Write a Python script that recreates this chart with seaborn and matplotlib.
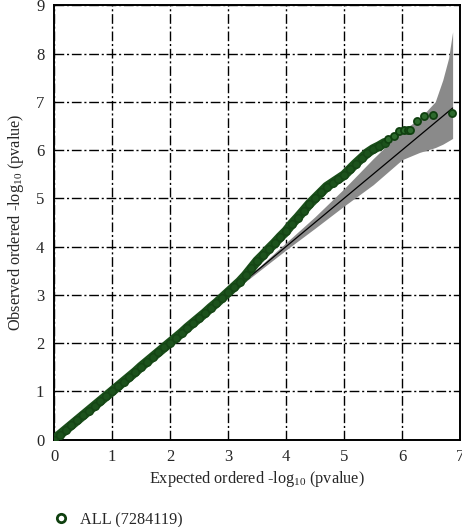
import numpy as np
import pandas as pd
import matplotlib
matplotlib.use("Agg")
import matplotlib.pyplot as plt
from matplotlib.lines import Line2D
import seaborn as sns

# Valeurs (QQ plot)
expected = [0.0, 0.1, 0.2, 0.3, 0.4, 0.5, 0.6, 0.7, 0.8, 0.9,
            1.0, 1.1, 1.2, 1.3, 1.4, 1.5, 1.6, 1.7, 1.8, 1.9,
            2.0, 2.1, 2.2, 2.3, 2.4, 2.5, 2.6, 2.7, 2.8, 2.9,
            3.0, 3.1, 3.2, 3.3, 3.4, 3.5, 3.6, 3.7, 3.8, 3.9,
            4.0, 4.1, 4.2, 4.3, 4.4, 4.5, 4.6, 4.7, 4.8, 4.9,
            5.0, 5.1, 5.2, 5.3, 5.4, 5.5, 5.6, 5.7, 5.75, 5.86,
            5.95, 6.03, 6.1, 6.14, 6.26, 6.38, 6.54, 6.86]
observed = [0.0, 0.1, 0.2, 0.3, 0.4, 0.5, 0.6, 0.7, 0.8, 0.9,
            1.0, 1.1, 1.2, 1.3, 1.4, 1.51, 1.61, 1.71, 1.81, 1.91,
            2.01, 2.11, 2.21, 2.32, 2.42, 2.52, 2.62, 2.73, 2.83, 2.94,
            3.05, 3.16, 3.27, 3.4, 3.55, 3.7, 3.82, 3.95, 4.07, 4.2,
            4.32, 4.47, 4.6, 4.74, 4.88, 5.0, 5.12, 5.24, 5.32, 5.4,
            5.48, 5.6, 5.72, 5.83, 5.94, 6.02, 6.08, 6.15, 6.23, 6.3,
            6.4, 6.42, 6.42, 6.41, 6.6, 6.71, 6.72, 6.77]

# Bande de confiance
band_x = [0.0, 3.0, 3.5, 4.0, 4.5, 5.0, 5.5, 6.0, 6.3, 6.57, 6.7, 6.8, 6.87]
band_low = [0.0, 2.99, 3.46, 3.93, 4.38, 4.84, 5.28, 5.8, 5.95, 6.05, 6.12, 6.19, 6.24]
band_up = [0.0, 3.01, 3.54, 4.08, 4.62, 5.2, 5.82, 6.4, 6.65, 7.0, 7.45, 7.9, 8.45]

# Diagonale attendue
diag_x = [0.0, 6.87]
diag_y = [0.0, 6.87]

x_ticks = [0, 1, 2, 3, 4, 5, 6, 7]
y_ticks = [0, 1, 2, 3, 4, 5, 6, 7, 8, 9]
legend_label = "ALL (7284119)"

sns.set_style("white")
plt.rcParams['font.family'] = ['Liberation Serif', 'DejaVu Serif']
plt.rcParams['mathtext.fontset'] = 'custom'
plt.rcParams['mathtext.rm'] = 'Liberation Serif'
plt.rcParams['mathtext.it'] = 'Liberation Serif:italic'

df = pd.DataFrame({'expected': expected, 'observed': observed})
dense = df[df['expected'] <= 5.7]

fig = plt.figure(figsize=(4.62, 5.27), dpi=100)
ax = fig.add_axes([0.117, 0.166, 0.879, 0.824])

ax.fill_between(band_x, band_low, band_up, color='#8a8a8a', linewidth=0, zorder=2)
sns.lineplot(x=diag_x, y=diag_y, color='black', linewidth=0.9, ax=ax, zorder=3)
# les points sont tellement serrés qu'ils forment une bande continue
sns.lineplot(data=dense, x='expected', y='observed', color='#1a4f1a', linewidth=7,
             solid_capstyle='round', ax=ax, zorder=4)
sns.scatterplot(data=dense, x='expected', y='observed', s=30, color='#1c521c',
                edgecolor='#154515', linewidth=1.0, ax=ax, zorder=5)
sns.scatterplot(data=df[df['expected'] > 5.7], x='expected', y='observed', s=26,
                color='#2c6a2c', edgecolor='#0f400f', linewidth=1.3, ax=ax, zorder=5)

ax.set_xlim(0, 7)
ax.set_ylim(0, 9)
ax.set_xticks(x_ticks)
ax.set_yticks(y_ticks)
ax.grid(True, color='black', linewidth=1.0, linestyle=(0, (7, 2, 1.5, 2)))
ax.set_axisbelow(True)
for s in ax.spines.values():
    s.set_color('black')
    s.set_linewidth(1.4)
ax.tick_params(axis='both', direction='out', length=4, width=1, color='black',
               labelsize=12, pad=3)

ax.set_xlabel(r'Expected ordered -log$_{10}$ (pvalue)', fontsize=11.7, labelpad=3)
ax.set_ylabel(r'Observed ordered -log$_{10}$ (pvalue)', fontsize=11.7, labelpad=7)

handle = Line2D([], [], marker='o', linestyle='none', markersize=6,
                markerfacecolor='white', markeredgecolor='#0f400f', markeredgewidth=2)
fig.legend([handle], [legend_label], loc='lower left', bbox_to_anchor=(0.065, -0.03),
           frameon=False, fontsize=11.7, handletextpad=0.2)

fig.savefig('out.png', dpi=100)
